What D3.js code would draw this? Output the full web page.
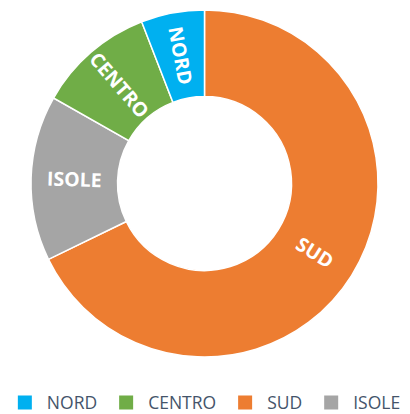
<!DOCTYPE html>
<html>
<head>
<meta charset="utf-8">
<script src="https://cdn.jsdelivr.net/npm/d3@7"></script>
<style>
	body { margin: 0; background: #fff; }
	svg { display: block; }
</style>
</head>
<body>
<svg id="chart" width="410" height="414"></svg>
<script>
// legend order
var categories = ['NORD', 'CENTRO', 'SUD', 'ISOLE'];
var values = [5.9, 10.9, 67.8, 15.4];
var colors = ['#00B0F0', '#70AD47', '#ED7D31', '#A5A5A5'];
// clockwise from 12 o'clock
var drawOrder = ['SUD', 'ISOLE', 'CENTRO', 'NORD'];

var svg = d3.select('#chart');
var cx = 204.5, cy = 183.5;
var outerR = 173.5, innerR = 87;

var data = drawOrder.map(function(name) {
	var i = categories.indexOf(name);
	return {name: name, value: values[i], color: colors[i]};
});

var pie = d3.pie().sort(null).value(function(d) { return d.value; });
var arc = d3.arc().innerRadius(innerR).outerRadius(outerR);

var g = svg.append('g').attr('transform', 'translate(' + cx + ',' + cy + ')');
var arcs = pie(data);

g.selectAll('path.slice').data(arcs).enter()
	.append('path')
	.attr('class', 'slice')
	.attr('d', arc)
	.attr('fill', function(d) { return d.data.color; })
	.attr('stroke', '#fff')
	.attr('stroke-width', 1.5);

// labels, rotated along the radius
var midR = (innerR + outerR) / 2;
g.selectAll('text.label').data(arcs).enter()
	.append('text')
	.attr('class', 'label')
	.attr('transform', function(d) {
		var a = (d.startAngle + d.endAngle) / 2;
		var x = midR * Math.sin(a), y = -midR * Math.cos(a);
		var deg = a * 180 / Math.PI;
		var rot = deg < 180 ? deg - 90 : deg - 270;
		return 'translate(' + x + ',' + y + ') rotate(' + rot + ')';
	})
	.attr('text-anchor', 'middle')
	.attr('dy', '0.36em')
	.attr('fill', '#fff')
	.style('font-family', '"Open Sans", sans-serif')
	.style('font-weight', 'bold')
	.style('font-size', '19.5px')
	.text(function(d) { return d.data.name; });

// legend
var legend = svg.append('g');
var x = 0;
categories.forEach(function(name, i) {
	var item = legend.append('g').attr('transform', 'translate(' + x + ',0)');
	item.append('rect')
		.attr('x', 0).attr('y', -7)
		.attr('width', 14).attr('height', 14)
		.attr('fill', colors[i]);
	var t = item.append('text')
		.attr('x', 29)
		.attr('dy', '0.36em')
		.attr('fill', '#44546A')
		.style('font-family', '"Open Sans", sans-serif')
		.style('font-size', '17.5px')
		.text(name);
	x += 29 + t.node().getComputedTextLength() + 22;
});
var legendW = x - 22;
legend.attr('transform', 'translate(' + (209 - legendW / 2) + ',402.5)');
</script>
</body>
</html>
